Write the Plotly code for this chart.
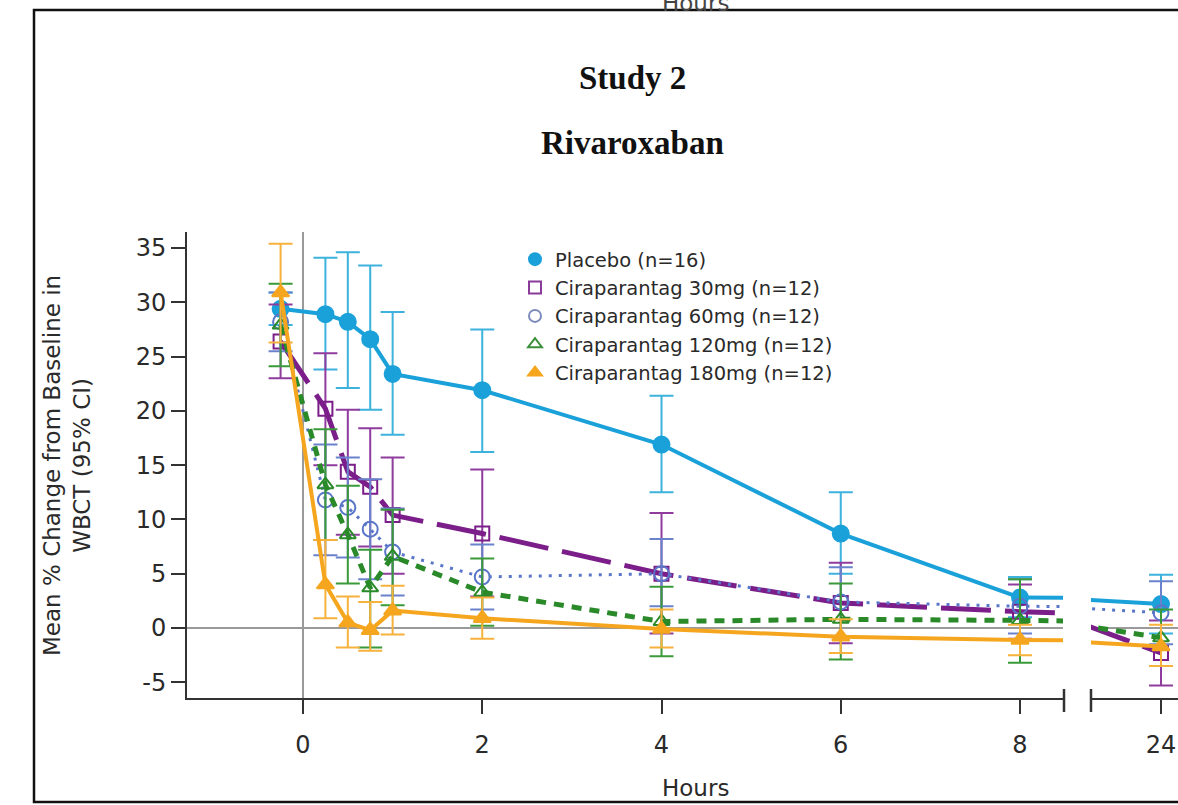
import plotly.graph_objects as go

# ---------------- data ----------------
hours = [-0.25, 0.25, 0.5, 0.75, 1, 2, 4, 6, 8, 24]

placebo_mean = [29.4, 28.9, 28.2, 26.6, 23.4, 21.9, 16.9, 8.7, 2.8, 2.2]
placebo_lo = [27.9, 23.8, 22.1, 20.1, 17.8, 16.2, 12.5, 5.0, 1.0, -0.5]
placebo_hi = [30.9, 34.1, 34.6, 33.4, 29.1, 27.5, 21.4, 12.5, 4.7, 4.9]

c30_mean = [26.4, 20.2, 14.4, 13.0, 10.4, 8.7, 5.0, 2.3, 1.5, -2.3]
c30_lo = [23.0, 15.0, 8.6, 7.5, 5.0, 2.9, -0.5, -1.4, -1.0, -5.3]
c30_hi = [29.8, 25.3, 20.1, 18.4, 15.7, 14.6, 10.6, 6.0, 4.0, 0.7]

c60_mean = [28.2, 11.8, 11.1, 9.1, 7.0, 4.7, 5.0, 2.4, 2.0, 1.4]
c60_lo = [25.5, 6.7, 6.5, 4.5, 3.0, 1.7, 2.0, -0.8, -0.5, -1.5]
c60_hi = [30.9, 16.9, 15.7, 13.7, 11.0, 7.7, 8.2, 5.6, 4.5, 4.3]

c120_mean = [27.9, 13.2, 8.6, 3.7, 6.6, 3.3, 0.6, 0.8, 0.7, -0.9]
c120_lo = [24.1, 8.1, 4.1, -1.8, 2.1, 0.2, -2.6, -2.9, -3.2, -3.5]
c120_hi = [31.7, 18.3, 13.1, 7.2, 10.9, 6.4, 3.8, 4.1, 4.5, 1.7]

c180_mean = [30.9, 4.0, 0.5, -0.2, 1.6, 0.9, -0.1, -0.8, -1.1, -1.7]
c180_lo = [26.3, 0.9, -1.8, -2.1, -0.6, -1.0, -1.8, -2.3, -2.5, -3.5]
c180_hi = [35.4, 8.1, 2.9, 2.4, 3.9, 2.8, 1.7, 0.8, 0.3, 0.3]

series_names = [
    "Placebo (n=16)",
    "Ciraparantag 30mg (n=12)",
    "Ciraparantag 60mg (n=12)",
    "Ciraparantag 120mg (n=12)",
    "Ciraparantag 180mg (n=12)",
]

y_ticks = [-5, 0, 5, 10, 15, 20, 25, 30, 35]
y_tick_labels = ["-5", "0", "5", "10", "15", "20", "25", "30", "35"]
x_ticks_left = [0, 2, 4, 6, 8]
x_ticks_right = [24]

# ---------------- styles ----------------
W, H = 1178, 805
SANS = "DejaVu Sans"

styles = [
    dict(mean=placebo_mean, lo=placebo_lo, hi=placebo_hi, color="#1ba1d9", ecolor="#3cb2dd",
         dash="solid", width=4, symbol="circle", msize=16, lsym="circle", lcolor="#1ba1d9"),
    dict(mean=c30_mean, lo=c30_lo, hi=c30_hi, color="#7b1e8a", ecolor="#8f3c9e",
         dash="50px,14px", width=5, symbol="square-open", msize=14, lsym="square-open", lcolor="#8a3a99"),
    dict(mean=c60_mean, lo=c60_lo, hi=c60_hi, color="#5a76c8", ecolor="#6a82cc",
         dash="3px,7px", width=3, symbol="circle-open", msize=15, lsym="circle-open", lcolor="#7d8cbc"),
    dict(mean=c120_mean, lo=c120_lo, hi=c120_hi, color="#2a8a2a", ecolor="#3a9a3a",
         dash="10px,8px", width=5, symbol="triangle-up-open", msize=14, lsym="triangle-up-open", lcolor="#3a8f3a"),
    dict(mean=c180_mean, lo=c180_lo, hi=c180_hi, color="#f5a61e", ecolor="#f6b23c",
         dash="solid", width=4, symbol="triangle-up", msize=15, lsym="triangle-up", lcolor="#f5a61e"),
]

fig = go.Figure()

for xa, ya in (("x", "y"), ("x2", "y2")):
    for s in styles:
        plus = [h - m for h, m in zip(s["hi"], s["mean"])]
        minus = [m - l for m, l in zip(s["mean"], s["lo"])]
        fig.add_trace(go.Scatter(
            x=hours, y=s["mean"], xaxis=xa, yaxis=ya,
            mode="lines+markers", showlegend=False,
            line=dict(color=s["color"], width=s["width"], dash=s["dash"]),
            marker=dict(symbol=s["symbol"], size=s["msize"], color=s["color"],
                        line=dict(color=s["color"], width=2)),
            error_y=dict(type="data", symmetric=False, array=plus, arrayminus=minus,
                         color=s["ecolor"], thickness=2, width=12),
        ))

# legend entries (marker only)
for name, s in zip(series_names, styles):
    fig.add_trace(go.Scatter(
        x=[None], y=[None], xaxis="x", yaxis="y", mode="markers", name=name,
        marker=dict(symbol=s["lsym"], size=13, color=s["lcolor"],
                    line=dict(color=s["lcolor"], width=2)),
    ))

# ---------------- layout ----------------
def px_x(p):
    return p / W

def px_y(p):
    return 1 - p / H

x0_pix, x_per_h = 303.0, 89.625
y0_pix, y_per_u = 628.0, 10.857
xl, xr = 187, 1063
yt, yb = 232, 698

x_range1 = [(xl - x0_pix) / x_per_h, (xr - x0_pix) / x_per_h]
y_range = [(y0_pix - yb) / y_per_u, (y0_pix - yt) / y_per_u]

axis_common = dict(showgrid=False, showline=True, linecolor="#333333", linewidth=2,
                   ticks="outside", ticklen=14, tickwidth=2, tickcolor="#333333",
                   tickfont=dict(family=SANS, size=24, color="#2a2a2a"))

seg2_left = 1091
tick24_px = 1161
x2_range = [14, 14 + 10 * (W - seg2_left) / (tick24_px - seg2_left)]

fig.update_layout(
    width=W, height=H,
    margin=dict(l=0, r=0, t=0, b=0),
    paper_bgcolor="white", plot_bgcolor="white",
    xaxis=dict(domain=[px_x(xl), px_x(xr)], range=x_range1, tickvals=x_ticks_left,
               zeroline=True, zerolinecolor="#9a9a9a", zerolinewidth=2, anchor="y",
               ticklabelstandoff=10, **axis_common),
    yaxis=dict(domain=[px_y(yb), px_y(yt)], range=y_range, tickvals=y_ticks,
               ticktext=y_tick_labels,
               zeroline=True, zerolinecolor="#9a9a9a", zerolinewidth=2, anchor="x",
               **axis_common),
    xaxis2=dict(domain=[px_x(seg2_left), 1.0], range=x2_range, tickvals=x_ticks_right,
                ticktext=[str(v) for v in x_ticks_right],
                zeroline=False, anchor="y2", ticklabelstandoff=10, **axis_common),
    yaxis2=dict(domain=[px_y(yb), px_y(yt)], range=y_range, anchor="x2",
                showline=False, showticklabels=False, ticks="", showgrid=False,
                zeroline=True, zerolinecolor="#9a9a9a", zerolinewidth=2),
    legend=dict(x=px_x(515), y=px_y(240), xanchor="left", yanchor="top",
                font=dict(family=SANS, size=19.5, color="#2a2a2a"),
                bgcolor="rgba(0,0,0,0)", itemsizing="constant"),
    showlegend=True,
)

annotations = [
    dict(text="<b>Study 2</b>", x=px_x(632), y=px_y(78), xref="paper", yref="paper",
         showarrow=False, xanchor="center", yanchor="middle",
         font=dict(family="Liberation Serif", size=33, color="#111111")),
    dict(text="<b>Rivaroxaban</b>", x=px_x(632), y=px_y(143), xref="paper", yref="paper",
         showarrow=False, xanchor="center", yanchor="middle",
         font=dict(family="Liberation Serif", size=33, color="#111111")),
    dict(text="Mean % Change from Baseline in<br>WBCT (95% CI)", x=px_x(67), y=px_y(466),
         xref="paper", yref="paper", showarrow=False, textangle=-90,
         xanchor="center", yanchor="middle",
         font=dict(family=SANS, size=23, color="#2a2a2a")),
    dict(text="Hours", x=px_x(695), y=px_y(788), xref="paper", yref="paper",
         showarrow=False, xanchor="center", yanchor="middle",
         font=dict(family=SANS, size=23, color="#2a2a2a")),
    dict(text="Hours", x=px_x(695), y=px_y(3), xref="paper", yref="paper",
         showarrow=False, xanchor="center", yanchor="middle",
         font=dict(family=SANS, size=23, color="#444444")),
]
fig.update_layout(annotations=annotations)

shapes = [
    # outer frame (cropped figure border)
    dict(type="rect", xref="paper", yref="paper", x0=px_x(34), x1=1.05,
         y0=px_y(802), y1=px_y(10), line=dict(color="#111111", width=2.5)),
    # axis break marks
    dict(type="line", xref="paper", yref="paper", x0=px_x(1064), x1=px_x(1064),
         y0=px_y(712), y1=px_y(689), line=dict(color="#333333", width=2.5)),
    dict(type="line", xref="paper", yref="paper", x0=px_x(1091), x1=px_x(1091),
         y0=px_y(712), y1=px_y(689), line=dict(color="#333333", width=2.5)),
]
fig.update_layout(shapes=shapes)

fig.write_html("out.html")
